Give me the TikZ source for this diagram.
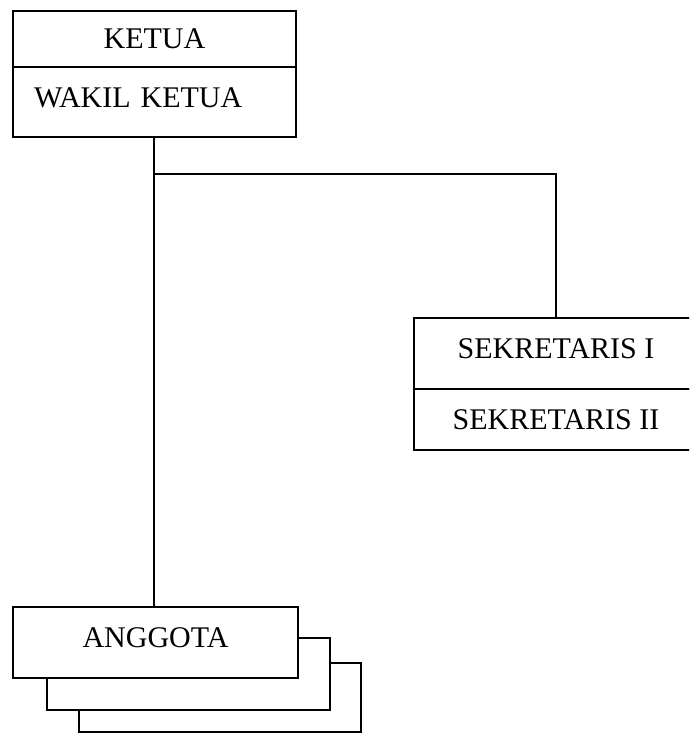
\documentclass[tikz,border=0pt]{standalone}
\usepackage{fontspec}
\setmainfont{Liberation Serif}
\begin{document}
\begin{tikzpicture}[x=1pt,y=-1pt,
  box/.style={draw, line width=2pt, fill=white, rectangle, inner sep=0pt,
    font=\fontsize{30}{34}\selectfont, anchor=north west},
  conn/.style={line width=2pt}]
\useasboundingbox (0,0) rectangle (689,733);
\clip (0,0) rectangle (689,733);
% top
\node[box, minimum width=283pt, minimum height=56pt] (ketua) at (12,10) {KETUA};
\node[box, minimum width=283pt, minimum height=70pt, text width=241pt, align=left, text depth=8pt] (wakil) at (12,66) {WAKIL KETUA};
% right
\node[box, minimum width=284pt, minimum height=71pt, text depth=10pt] (sek1) at (413,317) {SEKRETARIS I};
\node[box, minimum width=284pt, minimum height=61pt] (sek2) at (413,388) {SEKRETARIS II};
% stacked members
\node[box, minimum width=282pt, minimum height=69pt] (back2) at (78,662) {};
\node[box, minimum width=283pt, minimum height=72pt] (back1) at (46,637) {};
\node[box, minimum width=285pt, minimum height=71pt, text depth=9pt] (anggota) at (12,606) {ANGGOTA};
% connectors
\coordinate (j) at (154,174);
\draw[conn] (wakil.south -| j) -- (anggota.north -| j);
\draw[conn] (j) -| (sek1.north);
\end{tikzpicture}
\end{document}
